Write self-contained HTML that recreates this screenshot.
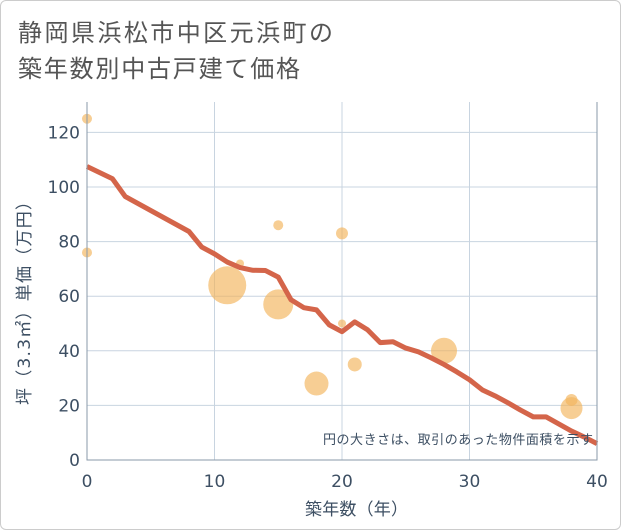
<!DOCTYPE html>
<html><head><meta charset="utf-8"><style>
body{margin:0;background:#fff;}
.wrap{width:619px;height:528px;border:1px solid #ccc;border-radius:6px;position:relative;overflow:hidden;font-family:"DejaVu Sans","Noto Sans CJK JP",sans-serif;}
</style></head><body>
<div class="wrap">
<svg width="621" height="530" id="chart" style="position:absolute;left:-1px;top:-1px" font-family="DejaVu Sans,Noto Sans CJK JP,sans-serif">
<text x="18" y="41" font-size="24" textLength="315" fill="#555">静岡県浜松市中区元浜町の</text>
<text x="18" y="77" font-size="24" textLength="282" fill="#555">築年数別中古戸建て価格</text>
<g id="grid"></g><g id="bubbles"></g><g id="line"></g><g id="axes"></g>
<text x="323" y="444" font-size="13" textLength="270" fill="#3d4f63">円の大きさは、取引のあった物件面積を示す</text>
<text x="305" y="515" font-size="17" textLength="103" fill="#3d4f63">築年数（年）</text>
<text transform="translate(30,405) rotate(-90)" font-size="17" textLength="212" fill="#3d4f63">坪（3.3㎡）単価（万円）</text>
</svg>
</div>
<script>
const xTicks=[0,10,20,30,40];
const yTicks=[0,20,40,60,80,100,120];
const lineX=[0,2,3,8,9,10,11,12,13,14,15,16,17,18,19,20,21,22,23,24,25,26,27,28,29,30,31,32,33,34,35,36,37,38,39,40];
const lineY=[107.5,103,96.5,83.7,78,75.5,72.5,70.5,69.5,69.4,67,58.7,55.8,55,49.5,47,50.6,47.7,43,43.3,41,39.6,37.4,35,32.3,29.4,25.7,23.5,21,18.3,15.8,15.8,13.2,10.6,8.4,6];
const bubX=[0,0,11,12,15,15,18,20,20,21,28,38,38];
const bubY=[125,76,64,72,86,57,28,83,50,35,40,22,19];
const bubR=[5,5,19,4,5,15,12,6,4,7,13,6,11];
const X0=87,X1=597,Y0=460,Y1=132.4,XMAX=40,YMAX=120;
const sx=v=>X0+(X1-X0)*v/XMAX, sy=v=>Y0-(Y0-Y1)*v/YMAX;
const NS='http://www.w3.org/2000/svg';
function mk(t,a,p){const e=document.createElementNS(NS,t);for(const k in a)e.setAttribute(k,a[k]);p.appendChild(e);return e;}
const grid=document.getElementById('grid'),axes=document.getElementById('axes');
xTicks.forEach(t=>{const l=mk('line',{x1:sx(t),x2:sx(t),y1:102,y2:Y0,stroke:'#c8d4e0','stroke-width':1},grid);


const tx=mk('text',{x:sx(t),y:487,'font-size':17,fill:'#3d4f63','text-anchor':'middle'},axes);tx.textContent=t;

});
yTicks.forEach(t=>{const l=mk('line',{x1:X0,x2:X1,y1:sy(t),y2:sy(t),stroke:'#c8d4e0','stroke-width':1},grid);


const tx=mk('text',{x:80,y:sy(t)+6,'font-size':17,fill:'#3d4f63','text-anchor':'end'},axes);tx.textContent=t;

});
const ax=mk('path',{d:`M${X0} 102V${Y0}H${X1}V102`,fill:'none',stroke:'#8a9aaa','stroke-width':1},axes);


const bg=document.getElementById('bubbles');
bubX.forEach((x,i)=>{const c=mk('circle',{cx:sx(x),cy:sy(bubY[i]),r:bubR[i],fill:'#f3b45a','fill-opacity':0.65},bg);

});
const p=mk('polyline',{points:lineX.map((x,i)=>sx(x)+','+sy(lineY[i])).join(' '),fill:'none',stroke:'#d4654a','stroke-width':5,'stroke-linejoin':'round'},document.getElementById('line'));


</script>
</body></html>
